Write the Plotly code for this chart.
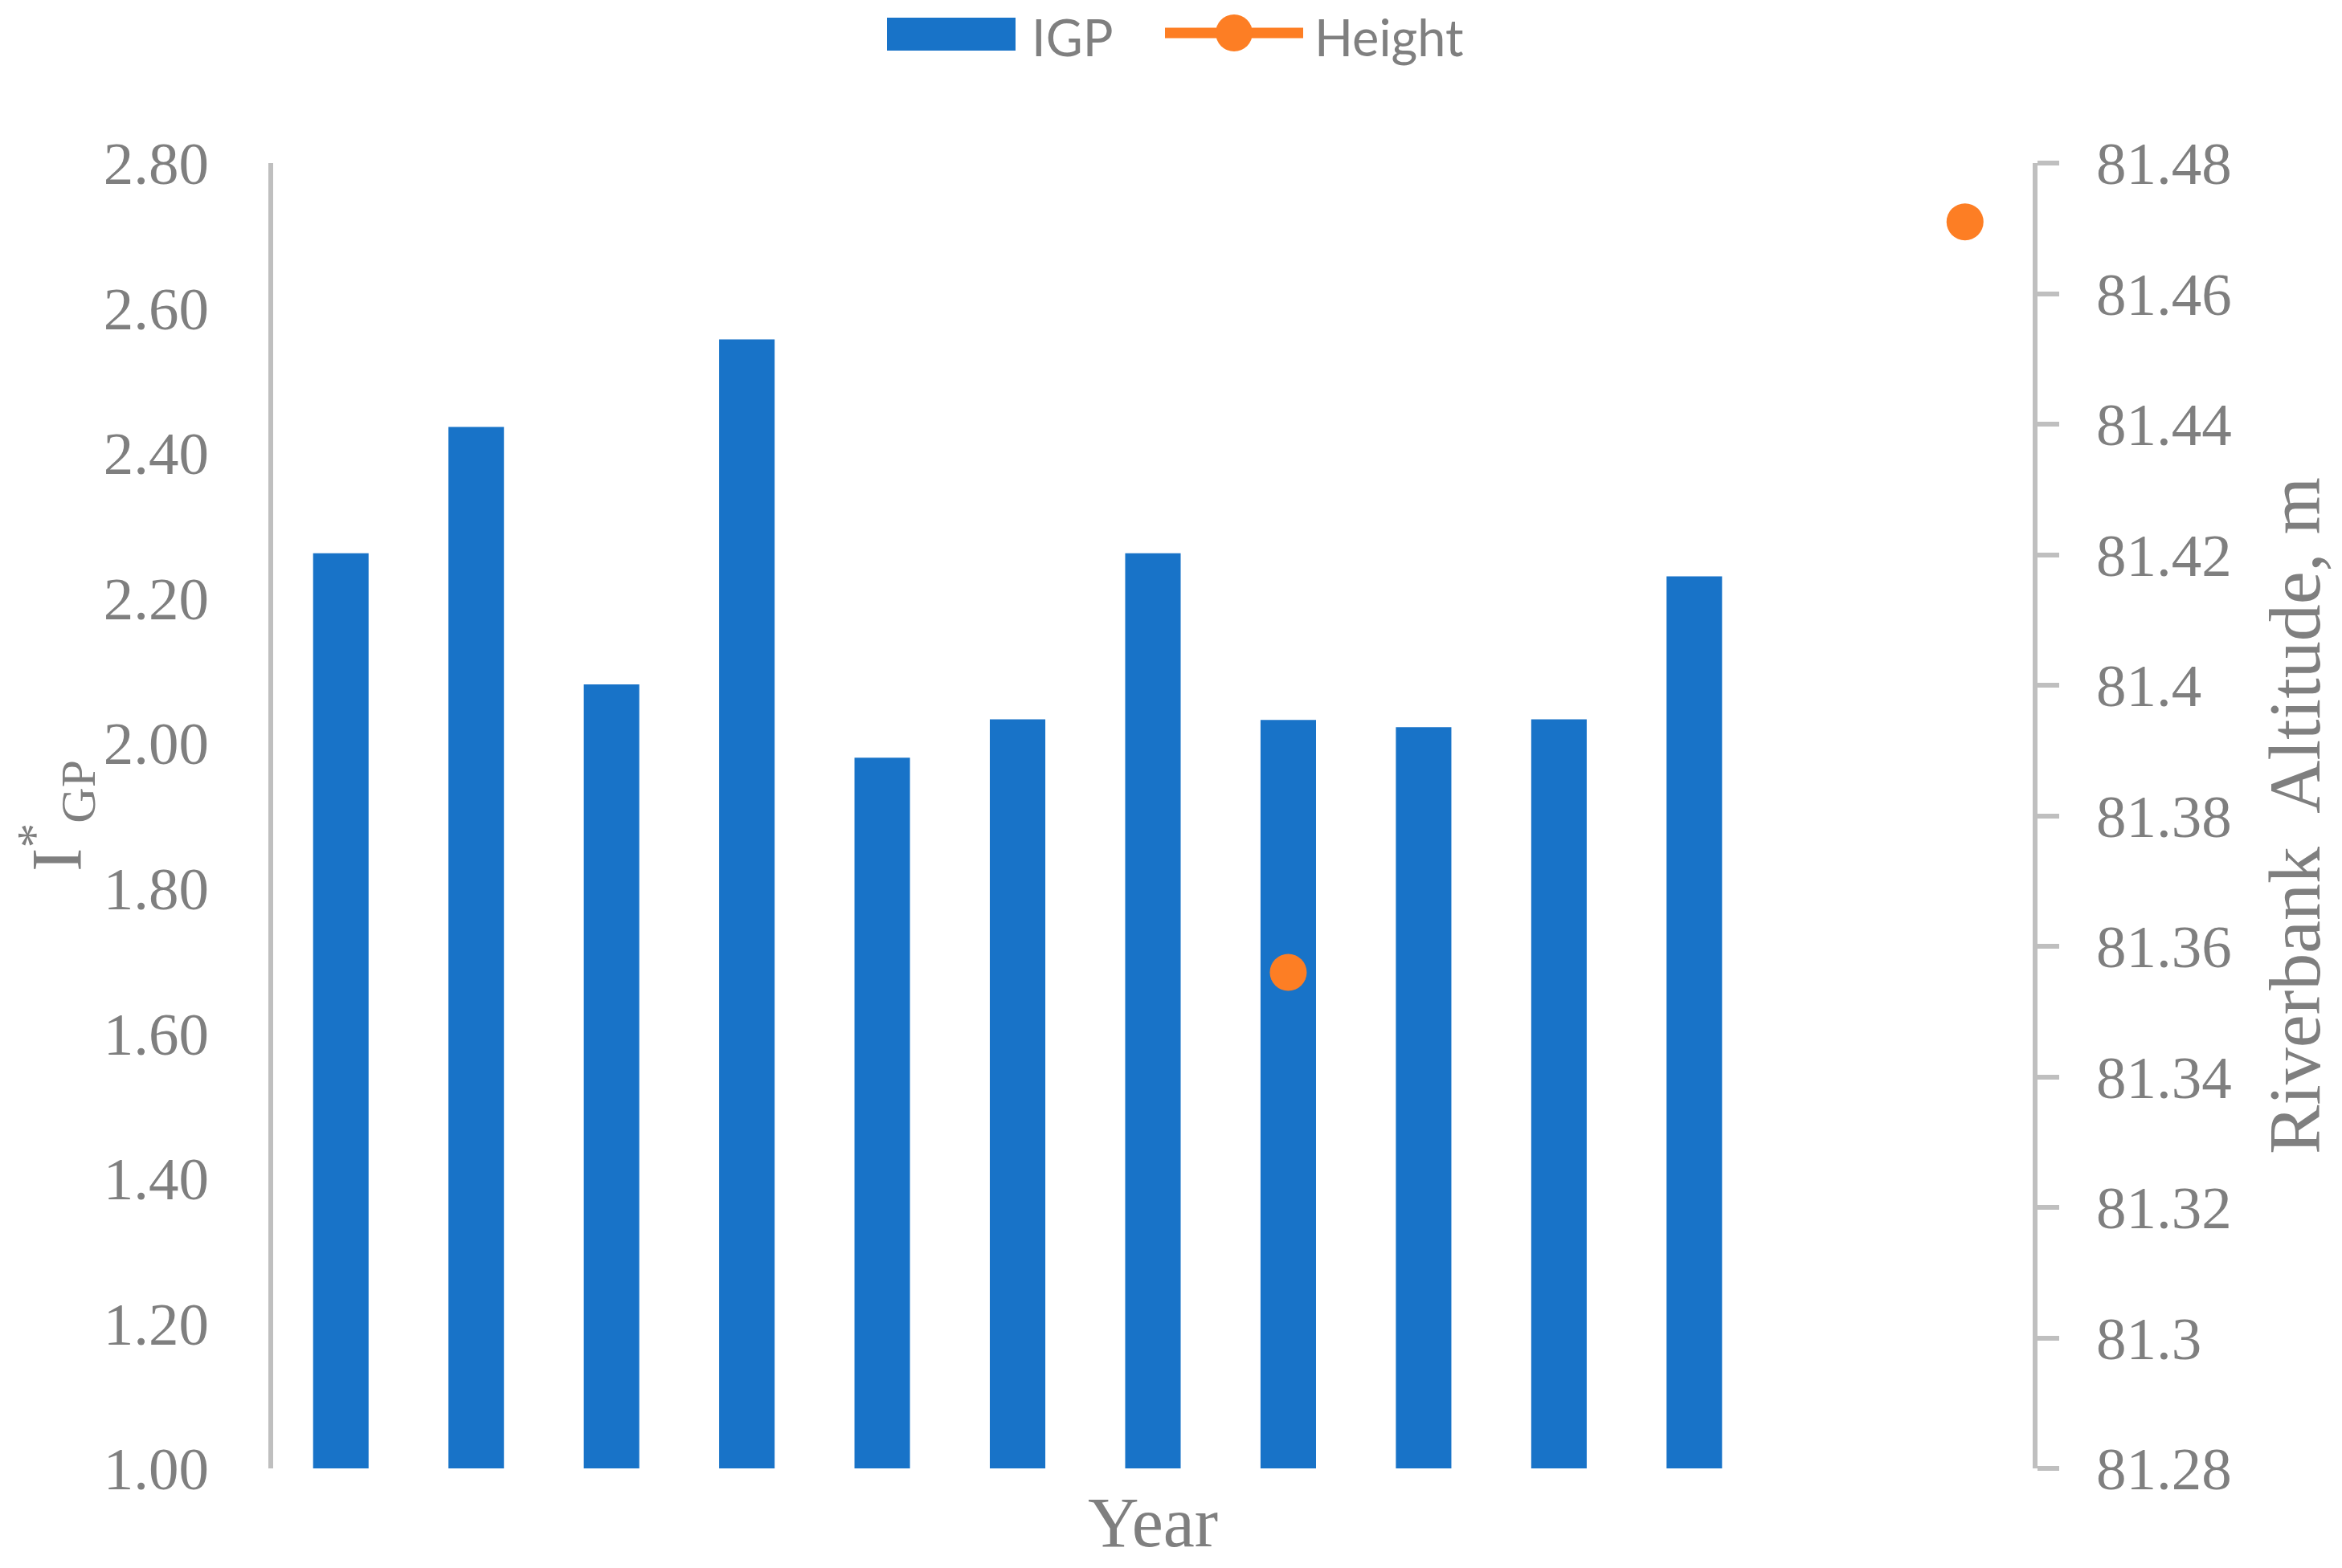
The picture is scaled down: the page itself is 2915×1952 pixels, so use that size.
import plotly.graph_objects as go

# ---- data ----
years = ["1", "2", "3", "4", "5", "6", "7", "8", "9", "10", "11", "12", "13"]
igp_years = years[:11]
igp_values = [2.262, 2.436, 2.081, 2.557, 1.980, 2.033, 2.262, 2.032, 2.022, 2.033, 2.230]
height_values = [None, None, None, None, None, None, None, 81.356, None, None, None, None, 81.471]
left_ticks = [1.0, 1.2, 1.4, 1.6, 1.8, 2.0, 2.2, 2.4, 2.6, 2.8]
right_ticks = [81.28, 81.30, 81.32, 81.34, 81.36, 81.38, 81.40, 81.42, 81.44, 81.46, 81.48]
right_ticktext = ["81.28", "81.3", "81.32", "81.34", "81.36", "81.38", "81.4", "81.42", "81.44", "81.46", "81.48"]

# ---- style ----
OFF = 8  # default page body margin
W, H = 2915 - 2 * OFF, 1952 - 2 * OFF
# plot area in window pixel coordinates
L, R, T, B = 340, 2530, 203, 1828
BLUE = "#1873C8"
ORANGE = "#FD7E24"
GRAY = "#7F7F7F"
AXIS = "#BFBFBF"
SERIF = "Liberation Serif"
SANS = "Lato"

fig = go.Figure()
fig.add_trace(go.Bar(x=igp_years, y=igp_values, name="IGP", marker_color=BLUE,
                     marker_line_width=0, yaxis="y", showlegend=False))
fig.add_trace(go.Scatter(x=years, y=height_values, name="Height", mode="lines+markers",
                         line=dict(color=ORANGE, width=13),
                         marker=dict(color=ORANGE, size=46), yaxis="y2",
                         connectgaps=False, showlegend=False))


def px(x):
    return (x - L) / (R - L)


def py(y):
    return (B - y) / (B - T)


# custom legend (window pixel positions)
shapes = [
    dict(type="rect", xref="paper", yref="paper", x0=px(1104), x1=px(1264), y0=py(63), y1=py(22),
         fillcolor=BLUE, line_width=0),
    dict(type="line", xref="paper", yref="paper", x0=px(1450), x1=px(1622), y0=py(41), y1=py(41),
         line=dict(color=ORANGE, width=13)),
    dict(type="circle", xref="paper", yref="paper", x0=px(1536 - 23), x1=px(1536 + 23),
         y0=py(41 + 23), y1=py(41 - 23), fillcolor=ORANGE, line_width=0),
]
annotations = [
    dict(text="IGP", xref="paper", yref="paper", x=px(1282), y=py(45), xanchor="left", yanchor="middle",
         showarrow=False, font=dict(family=SANS, size=63, color=GRAY)),
    dict(text="Height", xref="paper", yref="paper", x=px(1634), y=py(45), xanchor="left", yanchor="middle",
         showarrow=False, font=dict(family=SANS, size=63, color=GRAY)),
]

fig.update_layout(
    width=W, height=H,
    margin=dict(l=L - OFF, r=W - (R - OFF), t=T - OFF, b=H - (B - OFF), autoexpand=False),
    paper_bgcolor="white", plot_bgcolor="white",
    bargap=0.59,
    showlegend=False,
    shapes=shapes,
    annotations=annotations,
    xaxis=dict(type="category", categoryorder="array", categoryarray=years,
               range=[-0.5, 12.5], showticklabels=False, ticks="", showline=False,
               showgrid=False, zeroline=False,
               title=dict(text="Year", font=dict(family=SERIF, size=88, color=GRAY), standoff=70)),
    yaxis=dict(range=[1.0, 2.8], tickvals=left_ticks, tickformat=".2f",
               showline=True, linecolor=AXIS, linewidth=6, ticks="", showgrid=False, zeroline=False,
               tickfont=dict(family=SERIF, size=75, color=GRAY), ticklabelstandoff=59,
               title=dict(text="I<sup>*</sup><sub>GP</sub>", font=dict(family=SERIF, size=88, color=GRAY),
                          standoff=44)),
    yaxis2=dict(range=[81.28, 81.48], overlaying="y", side="right", anchor="x",
                tickvals=right_ticks, ticktext=right_ticktext,
                showline=True, linecolor=AXIS, linewidth=6, ticks="outside", ticklen=27,
                tickwidth=6, tickcolor=AXIS, showgrid=False, zeroline=False,
                tickfont=dict(family=SERIF, size=75, color=GRAY), ticklabelstandoff=31,
                title=dict(text="Riverbank\u00a0 Altitude, m", font=dict(family=SERIF, size=92, color=GRAY),
                           standoff=53)),
)

fig.write_html("out.html")
